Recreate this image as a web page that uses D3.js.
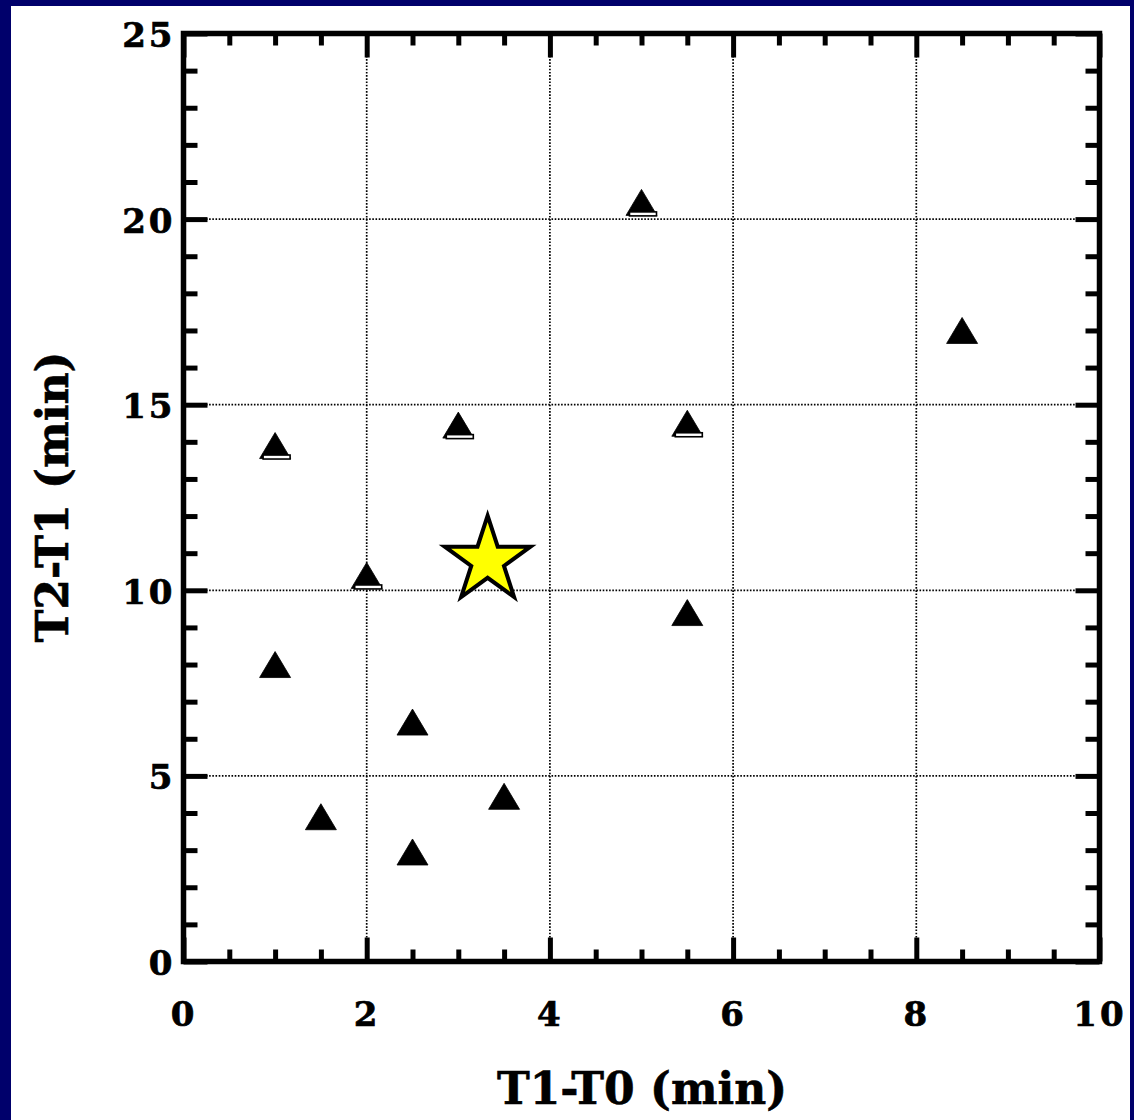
<!DOCTYPE html>
<html>
<head>
<meta charset="utf-8">
<script src="https://cdn.jsdelivr.net/npm/d3@7"></script>
<style>
  html, body { margin: 0; padding: 0; background: #00006b; }
  svg { display: block; }
</style>
</head>
<body>
<svg id="chart" width="1134" height="1120"></svg>
<script>
// Measured intervals: x = T1-T0, y = T2-T1 (minutes)
const triX = [1.0, 1.0, 1.5, 2.0, 2.5, 2.5, 3.0, 3.5, 5.0, 5.5, 5.5, 8.5];
const triY = [13.9, 8.0, 3.9, 10.4, 6.45, 2.95, 14.45, 4.45, 20.45, 14.5, 9.4, 17.0];
// Points that carry a second, overlapping open marker
const dupX = [1.0, 2.0, 3.0, 5.0, 5.5];
const dupY = [13.9, 10.4, 14.45, 20.45, 14.5];
// Highlighted event
const starX = [3.32];
const starY = [10.8];
// Axis ticks
const xMajorTicks = [0, 2, 4, 6, 8, 10];
const xMinorTicks = [0.5, 1, 1.5, 2.5, 3, 3.5, 4.5, 5, 5.5, 6.5, 7, 7.5, 8.5, 9, 9.5];
const yMajorTicks = [0, 5, 10, 15, 20, 25];
const yMinorTicks = [1, 2, 3, 4, 6, 7, 8, 9, 11, 12, 13, 14, 16, 17, 18, 19, 21, 22, 23, 24];
const xTitle = "T1-T0 (min)";
const yTitle = "T2-T1 (min)";

const W = 1134, H = 1120;
const plotL = 183.5, plotR = 1099.5, plotT = 33.5, plotB = 961.5;
const FONT = "'DejaVu Serif', 'Liberation Serif', serif";

const svg = d3.select("#chart");

// page: navy surround with white panel
svg.append("rect").attr("width", W).attr("height", H).attr("fill", "#00006b");
svg.append("rect").attr("x", 11).attr("y", 6).attr("width", 1119).attr("height", H - 6).attr("fill", "#ffffff");

const x = d3.scaleLinear().domain([0, 10]).range([plotL, plotR]);
const y = d3.scaleLinear().domain([0, 25]).range([plotB, plotT]);

// dotted grid at major ticks
const grid = svg.append("g").attr("stroke", "#000").attr("stroke-width", 1.7).attr("stroke-dasharray", "1.6 1.6");
grid.selectAll("line.v").data(xMajorTicks.slice(1, -1)).join("line").attr("class", "v")
  .attr("x1", d => x(d)).attr("x2", d => x(d)).attr("y1", plotT).attr("y2", plotB);
grid.selectAll("line.h").data(yMajorTicks.slice(1, -1)).join("line").attr("class", "h")
  .attr("y1", d => y(d)).attr("y2", d => y(d)).attr("x1", plotL).attr("x2", plotR);

// inward ticks on all four sides
function styleAxis(g) {
  g.select(".domain").remove();
  g.selectAll(".tick line").attr("stroke", "#000").attr("stroke-width", 5);
  g.selectAll("text").attr("font-family", FONT).attr("font-weight", "bold").attr("fill", "#000");
}
const MINOR = 12, MAJOR = 24;
svg.append("g").attr("transform", `translate(0,${plotB})`)
  .call(d3.axisBottom(x).tickValues(xMinorTicks).tickSize(-MINOR).tickFormat("")).call(styleAxis);
svg.append("g").attr("transform", `translate(0,${plotT})`)
  .call(d3.axisTop(x).tickValues(xMinorTicks).tickSize(-MINOR).tickFormat("")).call(styleAxis);
svg.append("g").attr("transform", `translate(${plotL},0)`)
  .call(d3.axisLeft(y).tickValues(yMinorTicks).tickSize(-(MINOR + 2)).tickFormat("")).call(styleAxis);
svg.append("g").attr("transform", `translate(${plotR},0)`)
  .call(d3.axisRight(y).tickValues(yMinorTicks).tickSize(-(MINOR + 2)).tickFormat("")).call(styleAxis);

svg.append("g").attr("transform", `translate(0,${plotT})`)
  .call(d3.axisTop(x).tickValues(xMajorTicks).tickSize(-MAJOR).tickFormat("")).call(styleAxis);
svg.append("g").attr("transform", `translate(${plotR},0)`)
  .call(d3.axisRight(y).tickValues(yMajorTicks).tickSize(-MAJOR).tickFormat("")).call(styleAxis);

// labelled axes
const xAxis = svg.append("g").attr("transform", `translate(0,${plotB})`)
  .call(d3.axisBottom(x).tickValues(xMajorTicks).tickSize(-MAJOR).tickSizeOuter(0).tickPadding(40).tickFormat(d3.format("d")))
  .call(styleAxis);
xAxis.selectAll("text").attr("font-size", 34).attr("letter-spacing", 3)
  .attr("stroke", "#000").attr("stroke-width", 0.7);

const yAxis = svg.append("g").attr("transform", `translate(${plotL},0)`)
  .call(d3.axisLeft(y).tickValues(yMajorTicks).tickSize(-MAJOR).tickSizeOuter(0).tickPadding(8).tickFormat(d3.format("d")))
  .call(styleAxis);
yAxis.selectAll("text").attr("font-size", 34).attr("letter-spacing", 3).attr("dy", "0.38em")
  .attr("stroke", "#000").attr("stroke-width", 0.7);

// frame
svg.append("rect").attr("x", plotL).attr("y", plotT)
  .attr("width", plotR - plotL).attr("height", plotB - plotT)
  .attr("fill", "none").attr("stroke", "#000").attr("stroke-width", 5.5);

// axis titles
svg.append("text").text(xTitle)
  .attr("x", 642).attr("y", 1104)
  .attr("text-anchor", "middle").attr("font-family", FONT).attr("font-weight", "bold")
  .attr("font-size", 44).attr("textLength", 290).attr("lengthAdjust", "spacingAndGlyphs")
  .attr("stroke", "#000").attr("stroke-width", 0.6);
svg.append("text").text(yTitle)
  .attr("transform", `translate(68,497) rotate(-90)`)
  .attr("text-anchor", "middle").attr("font-family", FONT).attr("font-weight", "bold")
  .attr("font-size", 44).attr("textLength", 291).attr("lengthAdjust", "spacingAndGlyphs")
  .attr("stroke", "#000").attr("stroke-width", 0.6);

// triangle markers
const TW = 15.5, TH = 13;
const triPath = d3.line();
const marks = svg.append("g");
marks.selectAll("path.tri").data(d3.range(triX.length)).join("path")
  .attr("class", "tri")
  .attr("d", i => {
    const cx = x(triX[i]), cy = y(triY[i]);
    return triPath([[cx, cy - TH], [cx + TW, cy + TH], [cx - TW, cy + TH]]) + "Z";
  })
  .attr("fill", "#000").attr("stroke", "#000").attr("stroke-width", 0.8);

// open marker edge showing beneath the coincident points
marks.selectAll("rect.dup").data(d3.range(dupX.length)).join("rect")
  .attr("class", "dup")
  .attr("x", i => x(dupX[i]) - 12).attr("y", i => y(dupY[i]) + 9.5)
  .attr("width", 27).attr("height", 4)
  .attr("fill", "#fff").attr("stroke", "#000").attr("stroke-width", 1.6);

// star
const R = 45, r = 17.2;
const starLine = d3.lineRadial().curve(d3.curveLinearClosed);
const starPts = d3.range(10).map(k => [k * Math.PI / 5, k % 2 === 0 ? R : r]);
svg.append("g").selectAll("path").data(d3.range(starX.length)).join("path")
  .attr("transform", i => `translate(${x(starX[i])},${y(starY[i])})`)
  .attr("d", starLine(starPts))
  .attr("fill", "#ffff00").attr("stroke", "#000").attr("stroke-width", 4)
  .attr("stroke-linejoin", "miter");
</script>
</body>
</html>
